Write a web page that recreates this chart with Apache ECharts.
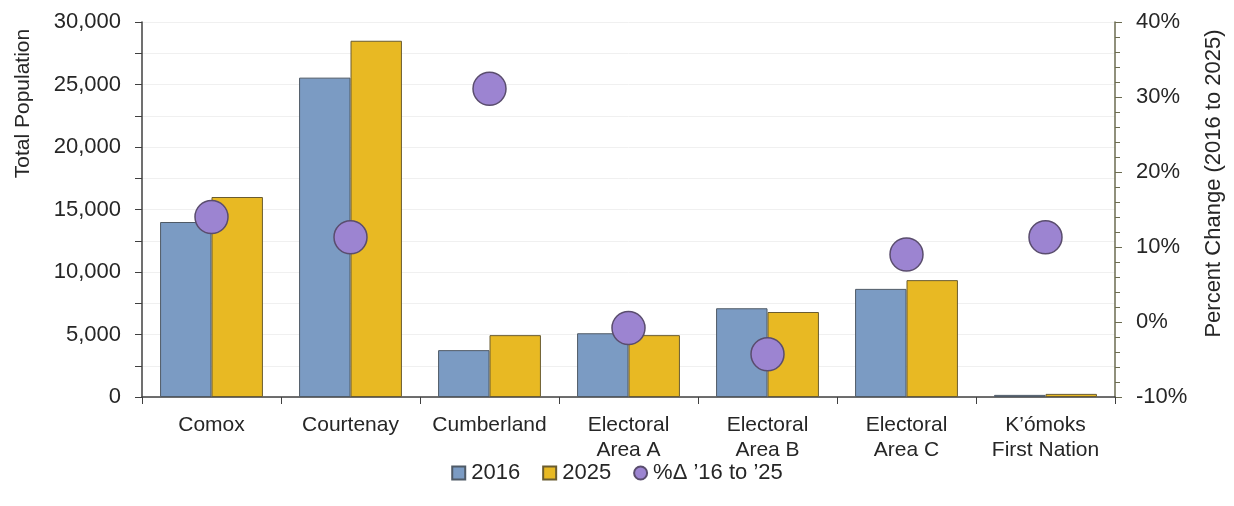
<!DOCTYPE html>
<html>
<head>
<meta charset="utf-8">
<script src="https://cdn.jsdelivr.net/npm/echarts@6/dist/echarts.min.js"></script>
<style>
  html, body { margin: 0; padding: 0; background: #fff; }
  #chart { width: 1234px; height: 506px; }
</style>
</head>
<body>
<div id="chart"></div>
<script>
// categories and values
const places = ['Comox', 'Courtenay', 'Cumberland', 'Electoral\nArea A', 'Electoral\nArea B', 'Electoral\nArea C', 'K\u2019ómoks\nFirst Nation'];
const pop2016 = [14000, 25550, 3750, 5100, 7100, 8650, 170];
const pop2025 = [16000, 28500, 4950, 4950, 6800, 9350, 250];
const pctChange = [14.0, 11.3, 31.1, -0.8, -4.3, 9.0, 11.3];

const fontFamily = '"Liberation Sans", Arial, sans-serif';
const textColor = '#262626';
const axisColor = '#404040';

const chart = echarts.init(document.getElementById('chart'));

const option = {
    backgroundColor: '#fff',
    textStyle: { fontFamily: fontFamily, color: textColor },
    grid: { left: 142, right: 119, top: 22, bottom: 109 },
    legend: {
        bottom: 17,
        left: 'center',
        itemWidth: 13,
        itemHeight: 13,
        itemGap: 22,
        textStyle: { fontSize: 22, color: textColor, padding: [0, 0, 0, 1] },
        data: [
            { name: '2016', icon: 'rect' },
            { name: '2025', icon: 'rect' },
            { name: '%\u0394 \u201916 to \u201925', icon: 'circle' }
        ]
    },
    xAxis: {
        type: 'category',
        data: places,
        axisLine: { lineStyle: { color: axisColor, width: 1.5 } },
        axisTick: { show: true, length: 7, lineStyle: { color: axisColor } },
        axisLabel: { interval: 0, fontSize: 21, color: textColor, lineHeight: 25, margin: 16 }
    },
    yAxis: [
        {
            type: 'value',
            name: 'Total Population',
            nameLocation: 'middle',
            nameGap: 108,
            nameTextStyle: { fontSize: 21, color: textColor, padding: [0, 0, 0, 212] },
            min: 0,
            max: 30000,
            interval: 5000,
            axisLine: { show: true, lineStyle: { color: axisColor, width: 1.5 } },
            axisTick: { show: true, length: 7, lineStyle: { color: axisColor } },
            minorTick: { show: true, splitNumber: 2, length: 7, lineStyle: { color: axisColor } },
            splitLine: { show: true, lineStyle: { color: '#f0f0f0' } },
            minorSplitLine: { show: true, lineStyle: { color: '#f0f0f0' } },
            axisLabel: {
                fontSize: 22,
                color: textColor,
                margin: 21,
                formatter: v => v.toLocaleString('en-US')
            }
        },
        {
            type: 'value',
            name: 'Percent Change (2016 to 2025)',
            nameLocation: 'middle',
            nameGap: 88,
            nameRotate: 90,
            nameTextStyle: { fontSize: 22, color: textColor, padding: [0, 0, 0, 52] },
            min: -10,
            max: 40,
            interval: 10,
            position: 'right',
            axisLine: { show: true, lineStyle: { color: '#6b6b50', width: 1.5 } },
            axisTick: { show: true, length: 7, lineStyle: { color: '#6b6b50' } },
            minorTick: { show: true, splitNumber: 5, length: 5, lineStyle: { color: '#6b6b50' } },
            splitLine: { show: false },
            axisLabel: { fontSize: 22, color: textColor, margin: 21, formatter: '{value}%' }
        }
    ],
    series: [
        {
            name: '2016',
            type: 'bar',
            data: pop2016,
            barGap: '0%',
            barCategoryGap: '26%',
            itemStyle: { color: '#7b9bc3', borderColor: '#4f5a66', borderWidth: 1 }
        },
        {
            name: '2025',
            type: 'bar',
            data: pop2025,
            itemStyle: { color: '#e8b923', borderColor: '#6a5c30', borderWidth: 1 }
        },
        {
            name: '%\u0394 \u201916 to \u201925',
            type: 'scatter',
            yAxisIndex: 1,
            data: pctChange,
            symbolSize: 33,
            itemStyle: { color: '#9c84d1', borderColor: '#5a4d6e', borderWidth: 1.5, opacity: 1 },
            z: 5
        }
    ]
};

chart.setOption(option);
</script>
</body>
</html>
